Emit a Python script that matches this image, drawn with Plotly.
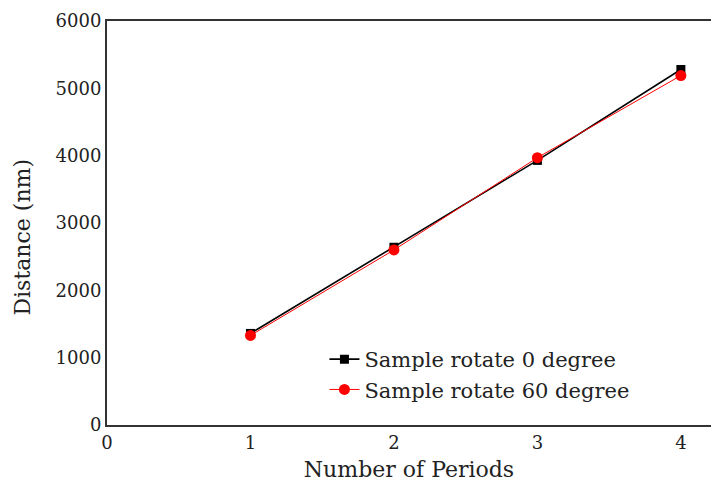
import plotly.graph_objects as go

# Measured distance per number of periods for two sample orientations
periods = [1, 2, 3, 4]
dist_0deg = [1360, 2640, 3930, 5280]
dist_60deg = [1330, 2600, 3970, 5190]

name_0deg = "Sample rotate 0 degree"
name_60deg = "Sample rotate 60 degree"

x_ticks = [0, 1, 2, 3, 4]
y_ticks = [0, 1000, 2000, 3000, 4000, 5000, 6000]

FONT = "DejaVu Serif"

fig = go.Figure()
fig.add_trace(go.Scatter(
    x=periods, y=dist_0deg, name=name_0deg, mode="lines+markers",
    line=dict(color="black", width=1.6),
    marker=dict(symbol="square", size=9, color="black"),
    legendgroup="a",
))
fig.add_trace(go.Scatter(
    x=periods, y=dist_60deg, name=name_60deg, mode="lines+markers",
    line=dict(color="red", width=1),
    marker=dict(symbol="circle", size=11, color="red"),
    legendgroup="b",
))

fig.update_layout(
    width=711, height=482,
    margin=dict(l=107, r=0, t=21, b=57),
    paper_bgcolor="white", plot_bgcolor="white",
    font=dict(family=FONT, size=18, color="#222"),
    showlegend=True,
    legend=dict(
        x=0.36, y=0.125, xanchor="left", yanchor="middle",
        bgcolor="rgba(0,0,0,0)", font=dict(size=21, family=FONT),
        tracegroupgap=8, traceorder="normal",
    ),
    xaxis=dict(
        range=[0, 4.21], tickvals=x_ticks, showgrid=False, zeroline=False,
        showline=True, linecolor="#333", linewidth=2, mirror=True,
        ticks="", ticklen=0, fixedrange=True,
        title=dict(text="Number of Periods", font=dict(size=22, family=FONT), standoff=14),
    ),
    yaxis=dict(
        range=[0, 6000], tickvals=y_ticks, showgrid=False, zeroline=False,
        showline=True, linecolor="#333", linewidth=2,
        ticks="", ticklen=0, fixedrange=True,
    ),
    annotations=[dict(
        text="Distance (nm)", xref="paper", yref="paper",
        x=-0.14, y=0.465, xanchor="center", yanchor="middle",
        textangle=-90, showarrow=False, font=dict(size=22, family=FONT, color="#222"),
    )],
)

fig.write_html("out.html")
